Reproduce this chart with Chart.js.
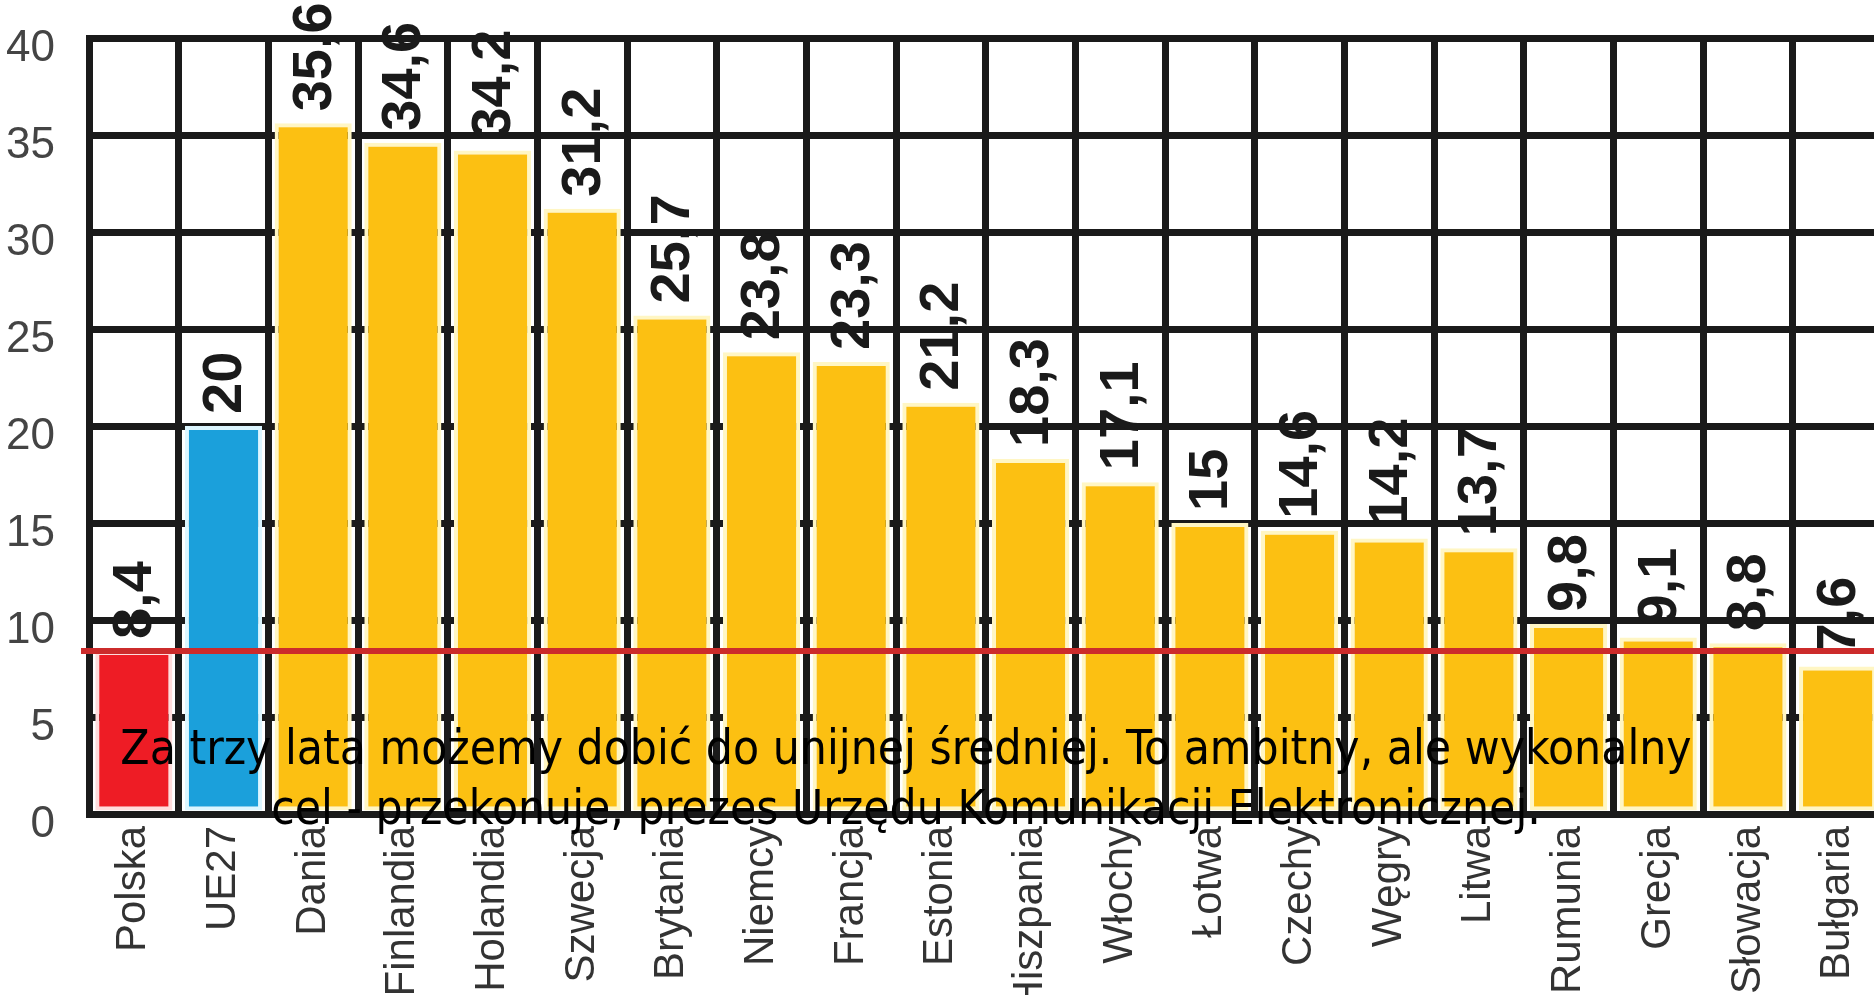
<!DOCTYPE html>
<html>
<head>
<meta charset="utf-8">
<script src="https://cdn.jsdelivr.net/npm/chart.js@4"></script>
<style>
  html, body { margin: 0; padding: 0; background: #fff; overflow: hidden; }
  #wrap { position: relative; width: 1900px; height: 1040px; }
  #quote {
    position: absolute; left: 0; top: 718px; width: 1812px;
    text-align: center; font-family: "DejaVu Sans Condensed", "DejaVu Sans", sans-serif;
    font-size: 47.5px; line-height: 60px; color: #000; pointer-events: none;
  }
</style>
</head>
<body>
<div id="wrap">
  <canvas id="wykres" width="1900" height="1040"></canvas>
  <div id="quote">Za trzy lata możemy dobić do unijnej średniej. To ambitny, ale wykonalny<br>cel - przekonuje, prezes Urzędu Komunikacji Elektronicznej.</div>
</div>
<script>
/* udział szerokopasmowego dostępu - kraje UE */

const kraje = ["Polska", "UE27", "Dania", "Finlandia", "Holandia", "Szwecja", "W. Brytania",
    "Niemcy", "Francja", "Estonia", "Hiszpania", "Włochy", "Łotwa", "Czechy", "Węgry",
    "Litwa", "Rumunia", "Grecja", "Słowacja", "Bułgaria"];
const wartosci = [8.4, 20, 35.6, 34.6, 34.2, 31.2, 25.7, 23.8, 23.3, 21.2, 18.3, 17.1, 15,
    14.6, 14.2, 13.7, 9.8, 9.1, 8.8, 7.6];
const poziomPolski = 8.4;
const osY = { min: 0, max: 40, krok: 5 };

const kolory = [];
const ramki = [];
for (i = 0; i < kraje.length; i++) {
    if (i == 0) { kolory.push("#ee1c25"); ramki.push("#ffdcdc"); }
    else if (i == 1) { kolory.push("#1ba0db"); ramki.push("#dcf6ff"); }
    else { kolory.push("#fcc012"); ramki.push("#fff6c4"); }
}

// etykiety wartości nad słupkami (pionowo)
const etykiety = {
    id: 'etykiety',
    afterDatasetsDraw(chart) {
        const ctx = chart.ctx;
        const meta = chart.getDatasetMeta(0);
        ctx.save();
        ctx.font = "bold 56px 'Liberation Sans', Arial, sans-serif";
        ctx.fillStyle = "#1a1a1a";
        ctx.textAlign = "left";
        ctx.textBaseline = "middle";
        meta.data.forEach(function (bar, i) {
            ctx.save();
            ctx.translate(bar.x + 2, bar.y - 12);
            ctx.rotate(-Math.PI / 2);
            ctx.fillText(String(wartosci[i]).replace('.', ','), 0, 0);
            ctx.restore();
        });
        ctx.restore();
    }
};

// czerwona linia poziomu Polski
const liniaPolski = {
    id: 'liniaPolski',
    afterDatasetsDraw(chart) {
        const ctx = chart.ctx;
        const y = chart.scales.y.getPixelForValue(poziomPolski);
        ctx.save();
        ctx.strokeStyle = "#cc2b2b";
        ctx.lineWidth = 6;
        ctx.beginPath();
        ctx.moveTo(chart.chartArea.left - 8, y);
        ctx.lineTo(chart.chartArea.right + 10, y);
        ctx.stroke();
        ctx.restore();
    }
};

new Chart(document.getElementById("wykres"), {
    type: 'bar',
    data: {
        labels: kraje,
        datasets: [{
            data: wartosci,
            backgroundColor: kolory,
            borderColor: ramki,
            borderWidth: 4,
            borderSkipped: false,
            barPercentage: 0.86,
            categoryPercentage: 1
        }]
    },
    options: {
        responsive: false,
        devicePixelRatio: 1,
        animation: false,
        layout: { padding: { top: 38, left: 4, right: 0, bottom: 0 } },
        plugins: { legend: { display: false }, tooltip: { enabled: false } },
        scales: {
            x: {
                grid: { color: "#1a1a1a", lineWidth: 7, drawTicks: false },
                border: { color: "#1a1a1a", width: 7 },
                ticks: {
                    minRotation: 90, maxRotation: 90, padding: 12, autoSkip: false,
                    color: "#333",
                    font: { family: "'Liberation Sans Narrow', 'Liberation Sans', Arial, sans-serif", size: 42 }
                },
                afterFit(scale) { scale.height = 1040 - 814; }
            },
            y: {
                min: osY.min, max: osY.max,
                grid: { color: "#1a1a1a", lineWidth: 7, drawTicks: false },
                border: { color: "#1a1a1a", width: 7 },
                ticks: {
                    stepSize: osY.krok, padding: 34, labelOffset: 11,
                    color: "#444",
                    font: { family: "'Liberation Sans', Arial, sans-serif", size: 44 }
                },
                afterFit(scale) {
                    scale.width = 85;
                    scale.paddingTop = 0;
                    scale.paddingBottom = 0;
                }
            }
        }
    },
    plugins: [etykiety, liniaPolski]
});
</script>
</body>
</html>
